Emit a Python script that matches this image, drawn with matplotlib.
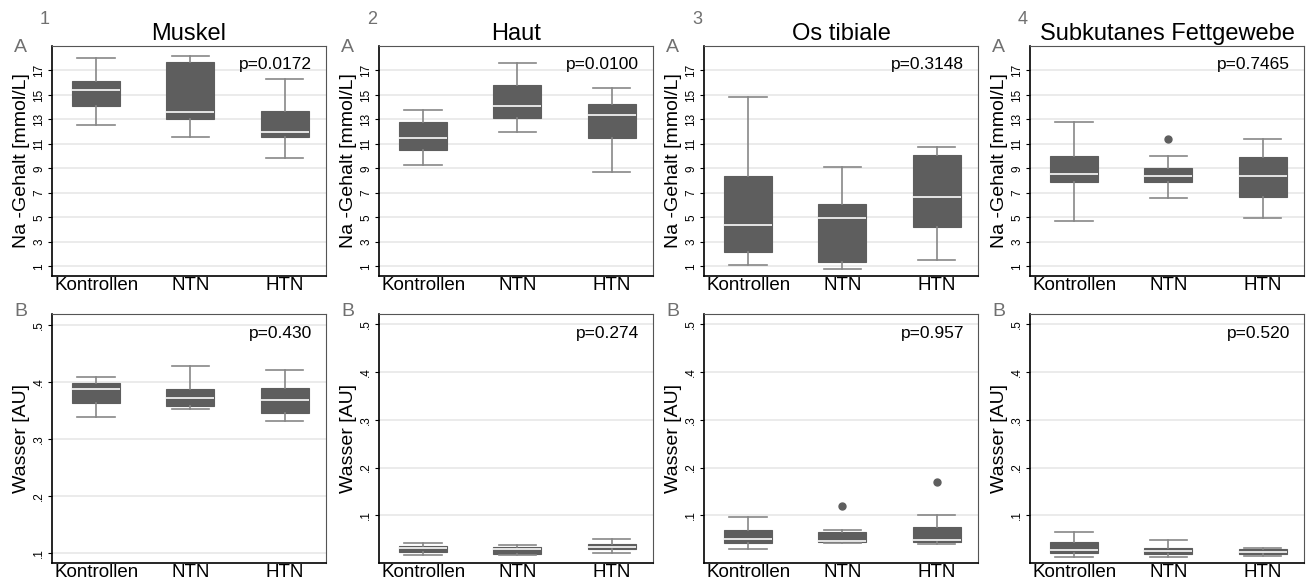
"""Na- und Wassergehalt je Gewebe: Boxplots Kontrollen / NTN / HTN."""

import matplotlib
matplotlib.use("Agg")
import matplotlib.pyplot as plt

plt.rcParams["font.family"] = ["Liberation Sans", "DejaVu Sans"]

GROUPS = ["Kontrollen", "NTN", "HTN"]
TISSUES = ["Muskel", "Haut", "Os tibiale", "Subkutanes Fettgewebe"]

# box stats per group: (whislo, q1, median, q3, whishi)
NA_MUSKEL = [(12.53, 14.11, 15.39, 16.13, 18.06),
             (11.58, 13.00, 13.62, 17.68, 18.17),
             (9.86, 11.58, 11.96, 13.68, 16.32)]
NA_HAUT = [(9.26, 10.50, 11.47, 12.82, 13.76),
           (11.98, 13.09, 14.11, 15.81, 17.59),
           (8.74, 11.52, 13.33, 14.25, 15.57)]
NA_OS = [(1.11, 2.20, 4.36, 8.38, 14.81),
         (0.78, 1.38, 4.97, 6.09, 9.12),
         (1.52, 4.23, 6.63, 10.11, 10.76)]
NA_FETT = [(4.68, 7.86, 8.53, 10.01, 12.75),
           (6.57, 7.91, 8.37, 9.04, 9.98),
           (4.90, 6.67, 8.40, 9.93, 11.38)]
NA_FETT_OUT = [[], [11.38], []]

W_MUSKEL = [(0.338, 0.364, 0.387, 0.399, 0.409),
            (0.352, 0.358, 0.372, 0.387, 0.428),
            (0.331, 0.346, 0.369, 0.389, 0.421)]
W_HAUT = [(0.016, 0.024, 0.031, 0.036, 0.041),
          (0.016, 0.019, 0.029, 0.034, 0.038),
          (0.022, 0.029, 0.034, 0.039, 0.051)]
W_OS = [(0.029, 0.042, 0.050, 0.070, 0.097),
        (0.042, 0.044, 0.047, 0.066, 0.069),
        (0.039, 0.044, 0.049, 0.075, 0.100)]
W_OS_OUT = [[], [0.119], [0.170]]
W_FETT = [(0.013, 0.022, 0.027, 0.044, 0.066),
          (0.012, 0.019, 0.026, 0.031, 0.049),
          (0.015, 0.019, 0.024, 0.029, 0.032)]

NA_P = ["p=0.0172", "p=0.0100", "p=0.3148", "p=0.7465"]
W_P = ["p=0.430", "p=0.274", "p=0.957", "p=0.520"]

NA_TICKS = [1, 3, 5, 7, 9, 11, 13, 15, 17]
W_TICKS = [0.1, 0.2, 0.3, 0.4, 0.5]
W_TICKLABELS = [".1", ".2", ".3", ".4", ".5"]

_BOX = "#5e5e5e"
_WHISK = "#878787"
_GRID = "#e8e8e8"
_LABEL = "#707070"


def _stats(rows, outliers=None):
    out = []
    for i, (lo, q1, med, q3, hi) in enumerate(rows):
        out.append({"whislo": lo, "q1": q1, "med": med, "q3": q3,
                    "whishi": hi,
                    "fliers": outliers[i] if outliers else []})
    return out


def _panel(ax, stats, p, ticks, ticklabels, ylim, ylabel):
    ax.bxp(stats, positions=[1, 2, 3], widths=0.51, patch_artist=True,
           showfliers=True,
           boxprops={"facecolor": _BOX, "edgecolor": _BOX, "linewidth": 0.8},
           medianprops={"color": "#f0f0f0", "linewidth": 1.3},
           whiskerprops={"color": _WHISK, "linewidth": 1.2},
           capprops={"color": _WHISK, "linewidth": 1.2},
           capwidths=0.4,
           flierprops={"marker": "o", "markerfacecolor": _BOX,
                       "markeredgecolor": _BOX, "markersize": 5})
    ax.set_xlim(0.53, 3.44)
    ax.set_ylim(*ylim)
    ax.set_yticks(ticks)
    ax.set_yticklabels(ticklabels, rotation=90, va="center", fontsize=8.5)
    ax.set_xticks([1, 2, 3])
    ax.set_xticklabels(GROUPS, fontsize=13.5)
    ax.tick_params(axis="x", length=0, pad=1)
    ax.tick_params(axis="y", length=3, width=0.8, pad=2)
    ax.set_axisbelow(True)
    ax.grid(axis="y", color=_GRID, linewidth=1.2)
    ax.set_ylabel(ylabel, fontsize=14, labelpad=2)
    ax.spines["left"].set_linewidth(1.2)
    ax.spines["bottom"].set_linewidth(1.2)
    ax.spines["top"].set_color("#555555")
    ax.spines["right"].set_color("#555555")
    ax.text(0.95, 0.92, p, transform=ax.transAxes, ha="right", va="center",
            fontsize=12.5)


def main():
    fig = plt.figure(figsize=(13.06, 5.83), dpi=100)
    lefts = [52, 379, 704, 1030]
    na = [_stats(NA_MUSKEL), _stats(NA_HAUT), _stats(NA_OS),
          _stats(NA_FETT, NA_FETT_OUT)]
    wa = [_stats(W_MUSKEL), _stats(W_HAUT), _stats(W_OS, W_OS_OUT),
          _stats(W_FETT)]
    W, H = 1306, 583
    for i, left in enumerate(lefts):
        ax_a = fig.add_axes([left / W, 1 - 276 / H, 274 / W, 230 / H])
        _panel(ax_a, na[i], NA_P[i], NA_TICKS, [str(t) for t in NA_TICKS],
               (0.2, 19.0), "Na -Gehalt [mmol/L]")
        ax_a.set_title(TISSUES[i], fontsize=17, pad=4)
        ax_b = fig.add_axes([left / W, 1 - 563 / H, 274 / W, 249 / H])
        ylim = (0.083, 0.519) if i == 0 else (0.0, 0.522)
        _panel(ax_b, wa[i], W_P[i], W_TICKS, W_TICKLABELS, ylim,
               "Wasser [AU]")

        fig.text((left - 2) / W, 1 - 20 / H, str(i + 1), fontsize=13,
                 color=_LABEL, va="center", ha="right")
        fig.text((left - 38) / W, 1 - 47 / H, "A", fontsize=14,
                 color=_LABEL, va="center")
        fig.text((left - 38) / W, 1 - 311 / H, "B", fontsize=14,
                 color=_LABEL, va="center")

    fig.savefig("out.png", dpi=100)
    plt.close(fig)


if __name__ == "__main__":
    main()
